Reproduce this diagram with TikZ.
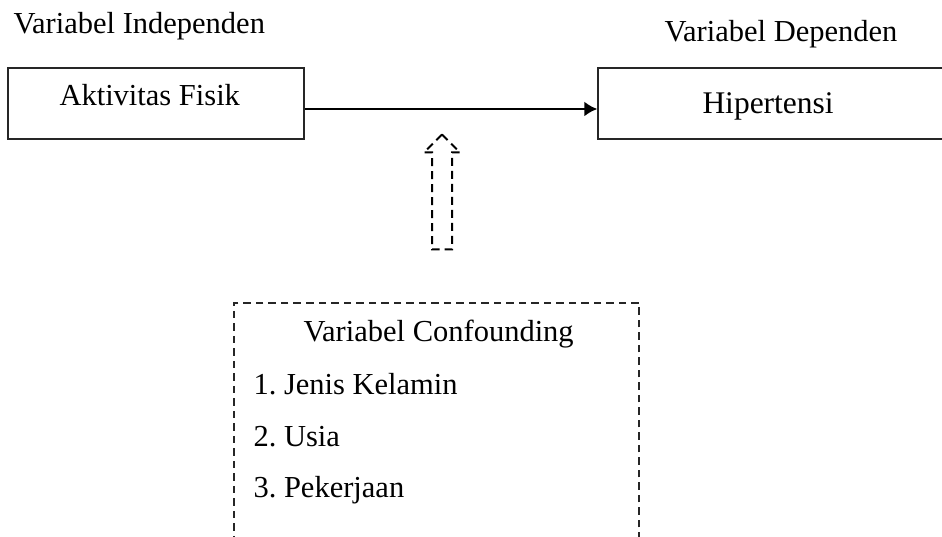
\documentclass[tikz,border=0pt]{standalone}
\usepackage{fontspec}
\setmainfont{Liberation Serif}
\usetikzlibrary{positioning, arrows.meta, shapes.arrows}

\begin{document}
\begin{tikzpicture}[
    x=0.4pt, y=-0.4pt,
    font=\fontsize{12.2}{14}\selectfont,
    kotak/.style={draw=black!85, line width=0.5pt, minimum height=28.4pt, inner sep=0pt},
    kotakputus/.style={draw=black!85, line width=0.5pt, dash pattern=on 3pt off 2pt, inner sep=0pt},
    teks/.style={anchor=base west, inner sep=0pt},
    hubung/.style={line width=1.1pt, -{Latex[length=5.2pt, width=6pt]}},
    panahkosong/.style={single arrow, draw, line width=0.8pt, dash pattern=on 3.2pt off 2pt,
        rotate=90, minimum height=46pt, inner xsep=0pt, inner ysep=3.6pt,
        single arrow head extend=3.2pt, single arrow tip angle=90}
]

   \clip (0,0) rectangle (942,537);

   % Boxes
   \node[kotak, minimum width=118.4pt] (fisik) at (156,103.5) {};
   \node[kotak, minimum width=144.8pt] (hiper) at (779,103.5) {};
   \node[kotakputus, minimum width=162pt, minimum height=102.8pt] (confound) at (436.5,431.5) {};

   % Texts
   \node[teks] (judulX) at (13,34) {Variabel Independen};
   \node[teks] (judulY) at (664,42) {Variabel Dependen};
   \node[teks] (tFisik) at (59,106) {Aktivitas Fisik};
   \node[teks, font=\fontsize{12.6}{15}\selectfont] (tHiper) at (702,114) {Hipertensi};
   \node[teks] (tConf) at (303,342) {Variabel Confounding};
   \foreach \i/\t/\y in {1/Jenis Kelamin/395, 2/Usia/447, 3/Pekerjaan/498}
      \node[teks] (item\i) at (253,\y) {\i.\ \t};

   % Arrows
   \draw[hubung] ([yshift=-2.2pt]fisik.east) -- ([yshift=-2.2pt]hiper.west);
   \node[panahkosong] (pengaruh) at (442,197) {};
\end{tikzpicture}
\end{document}
